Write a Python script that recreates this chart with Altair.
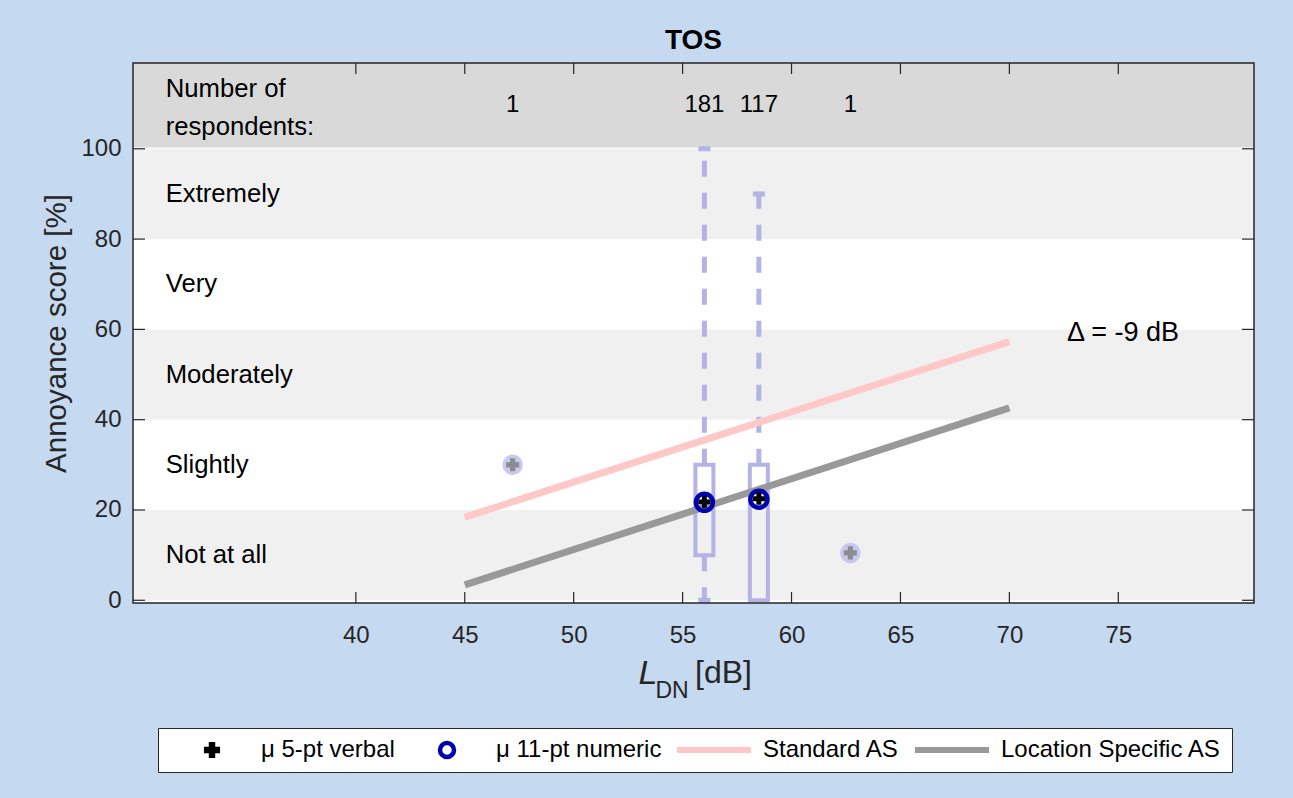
import altair as alt
import pandas as pd

# ---------------- data ----------------
x_tick_values = [40, 45, 50, 55, 60, 65, 70, 75]
y_tick_values = [0, 20, 40, 60, 80, 100]

band_names = ["Not at all", "Slightly", "Moderately", "Very", "Extremely"]
band_lo = [0, 20, 40, 60, 80]
band_hi = [20, 40, 60, 80, 100]

group_ldn = [47.2, 56.0, 58.5, 62.7]
group_n = [1, 181, 117, 1]

box_ldn = [56.0, 58.5]
box_q1 = [10, 0]
box_q3 = [30, 30]
box_min = [0, 0]
box_max = [100, 90]
mean_5pt = [21.8, 22.5]
mean_11pt = [21.7, 22.4]

single_ldn = [47.2, 62.7]
single_score = [30.0, 10.5]

curve_ldn = [45, 70]
standard_as = [18.4, 57.3]
location_as = [3.4, 42.6]

legend_names = ["μ 5-pt verbal", "μ 11-pt numeric", "Standard AS", "Location Specific AS"]
delta_label = "Δ = -9 dB"
header_label = "Number of\nrespondents:"

# ---------------- style ----------------
W, H = 1121, 540
X_DOMAIN = [30, 81]
Y_DOMAIN = [-0.6, 119]
HEADER_BOTTOM, HEADER_TOP = 100.3, 119
FONT = "Liberation Sans"
INK = "#262626"
LAV = "#b3b3e6"
LAV_FILL = "#c8c8f0"
BLUE = "#0000b3"
PINK = "#ffc8c8"
GREY = "#999999"
BAND_GREY = "#f0f0f0"
LABEL_X = 31.27
COUNT_Y = 109.7
HEADER_Y = 113.2
DELTA_X, DELTA_Y = 72.65, 59.2
TICK_LEN = 11

# legend symbol helpers (datum is the raw value in the entry-size pass,
# the entry object when the symbols are drawn)
V = "(isString(datum) ? datum : datum.value)"
SIZE_EXPR = (f"(indexof(['Standard AS', 'Location Specific AS'], {V}) >= 0 ? 5476 : "
             f"({V} == '{legend_names[0]}' ? 260 : 196))")
SW_EXPR = (f"({V} == '{legend_names[0]}' ? 0 : "
           f"({V} == '{legend_names[1]}' ? 4.5 : 6))")


def xenc(field):
    return alt.X(
        f"{field}:Q",
        scale=alt.Scale(domain=X_DOMAIN, nice=False, zero=False),
        axis=alt.Axis(values=x_tick_values, title=None, domain=False, ticks=False,
                      tickSize=0, grid=False, labelFontSize=24, labelPadding=20,
                      labelColor=INK, labelFont=FONT, labelFlush=False),
    )


def yenc(field):
    return alt.Y(
        f"{field}:Q",
        scale=alt.Scale(domain=Y_DOMAIN, nice=False, zero=False),
        axis=alt.Axis(values=y_tick_values, title="Annoyance score [%]", domain=False,
                      ticks=False, tickSize=0, grid=False, labelFontSize=24,
                      labelPadding=12, labelColor=INK, labelFont=FONT, labelFlush=False,
                      titleFontSize=29.5, titleFont=FONT, titleFontWeight="normal",
                      titleColor=INK, titlePadding=9),
    )


# ---------------- tables ----------------
bands = pd.DataFrame({"name": band_names, "lo": band_lo, "hi": band_hi,
                      "mid": [(a + b) / 2 for a, b in zip(band_lo, band_hi)]})
shaded_bands = bands.iloc[::2]
header = pd.DataFrame({"lo": [HEADER_BOTTOM], "hi": [HEADER_TOP]})
counts = pd.DataFrame({"ldn": group_ldn, "n": [str(v) for v in group_n]})

wh_rows, cap_rows = [], []
for x, lo, q1, q3, hi in zip(box_ldn, box_min, box_q1, box_q3, box_max):
    wh_rows.append({"ldn": x, "a": q3, "b": hi})
    cap_rows.append({"ldn": x, "v": hi})
    if lo < q1:
        wh_rows.append({"ldn": x, "a": q1, "b": lo})
        cap_rows.append({"ldn": x, "v": lo})
whiskers = pd.DataFrame(wh_rows)
caps = pd.DataFrame(cap_rows)
boxes = pd.DataFrame({"ldn": box_ldn, "q1": box_q1, "q3": box_q3})
means = pd.DataFrame({"ldn": box_ldn, "m5": mean_5pt, "m11": mean_11pt})
singles = pd.DataFrame({"ldn": single_ldn, "score": single_score})
curves = pd.DataFrame({"ldn": curve_ldn, "std": standard_as, "loc": location_as})
xt = pd.DataFrame({"v": x_tick_values})
yt = pd.DataFrame({"v": y_tick_values})
leg = pd.DataFrame({"series": legend_names})

# ---------------- layers ----------------
header_rect = alt.Chart(header).mark_rect(color="#d9d9d9").encode(
    x=alt.value(0), x2=alt.value(W), y=yenc("lo"), y2="hi:Q")

band_rect = alt.Chart(shaded_bands).mark_rect(color=BAND_GREY).encode(
    x=alt.value(0), x2=alt.value(W), y=yenc("lo"), y2="hi:Q")

band_text = alt.Chart(bands).mark_text(
    align="left", baseline="middle", font=FONT, fontSize=25.7, color="black").encode(
    x=alt.datum(LABEL_X), y=yenc("mid"), text="name:N")

header_text = alt.Chart(pd.DataFrame({"t": [header_label]})).mark_text(
    align="left", baseline="middle", font=FONT, fontSize=25.7, color="black",
    lineBreak="\n", lineHeight=38).encode(
    x=alt.datum(LABEL_X), y=alt.datum(HEADER_Y), text="t:N")

count_text = alt.Chart(counts).mark_text(
    align="center", baseline="middle", font=FONT, fontSize=24, color="black").encode(
    x=xenc("ldn"), y=alt.datum(COUNT_Y), text="n:N")

whisker_rule = alt.Chart(whiskers).mark_rule(
    color=LAV, strokeWidth=5, strokeDash=[16, 16]).encode(
    x=xenc("ldn"), y=yenc("a"), y2="b:Q")

cap_tick = alt.Chart(caps).mark_tick(
    color=LAV, orient="horizontal", size=12, thickness=5, opacity=1).encode(
    x=xenc("ldn"), y=yenc("v"))

box_bar = alt.Chart(boxes).mark_bar(
    size=18, fillOpacity=0, stroke=LAV, strokeWidth=4).encode(
    x=xenc("ldn"), y=yenc("q1"), y2="q3:Q")

std_line = alt.Chart(curves).mark_line(color=PINK, strokeWidth=7, strokeCap="butt").encode(
    x=xenc("ldn"), y=yenc("std"))
loc_line = alt.Chart(curves).mark_line(color=GREY, strokeWidth=7, strokeCap="butt").encode(
    x=xenc("ldn"), y=yenc("loc"))

single_circ = alt.Chart(singles).mark_point(
    shape="circle", filled=True, size=420, color=LAV_FILL, opacity=1).encode(
    x=xenc("ldn"), y=yenc("score"))
single_plus = alt.Chart(singles).mark_point(
    shape="cross", filled=True, size=170, color="#8c8c8c", opacity=1).encode(
    x=xenc("ldn"), y=yenc("score"))

mean_circ = alt.Chart(means).mark_point(
    shape="circle", filled=False, size=290, color=BLUE, strokeWidth=4.5, opacity=1).encode(
    x=xenc("ldn"), y=yenc("m11"))
mean_plus = alt.Chart(means).mark_point(
    shape="cross", filled=True, size=150, color="black", opacity=1).encode(
    x=xenc("ldn"), y=yenc("m5"))

delta_text = alt.Chart(pd.DataFrame({"t": [delta_label]})).mark_text(
    align="left", baseline="middle", font=FONT, fontSize=27, color="black").encode(
    x=alt.datum(DELTA_X), y=alt.datum(DELTA_Y), text="t:N")

tick_b = alt.Chart(xt).mark_rule(color=INK, strokeWidth=1.2).encode(
    x=xenc("v"), y=alt.value(H), y2=alt.value(H - TICK_LEN))
tick_t = alt.Chart(xt).mark_rule(color=INK, strokeWidth=1.2).encode(
    x=xenc("v"), y=alt.value(0), y2=alt.value(TICK_LEN))
tick_l = alt.Chart(yt).mark_rule(color=INK, strokeWidth=1.2).encode(
    y=yenc("v"), x=alt.value(0), x2=alt.value(TICK_LEN + 1))
tick_r = alt.Chart(yt).mark_rule(color=INK, strokeWidth=1.2).encode(
    y=yenc("v"), x=alt.value(W), x2=alt.value(W - TICK_LEN - 1))

frame = alt.Chart(pd.DataFrame({"k": [0]})).mark_rect(
    fillOpacity=0, stroke=INK, strokeWidth=1.5).encode(
    x=alt.value(0), x2=alt.value(W), y=alt.value(0), y2=alt.value(H))

# x-axis title with subscript
xt_L = alt.Chart(pd.DataFrame({"t": ["L"]})).mark_text(
    font=FONT, fontSize=34, fontStyle="italic", color=INK, align="center", baseline="middle").encode(
    x=alt.value(515), y=alt.value(611), text="t:N")
xt_DN = alt.Chart(pd.DataFrame({"t": ["DN"]})).mark_text(
    font=FONT, fontSize=23, color=INK, align="center", baseline="middle").encode(
    x=alt.value(539), y=alt.value(628), text="t:N")
xt_dB = alt.Chart(pd.DataFrame({"t": ["[dB]"]})).mark_text(
    font=FONT, fontSize=32, color=INK, align="center", baseline="middle").encode(
    x=alt.value(590.5), y=alt.value(610), text="t:N")

legend_obj = alt.Legend(
    title=None, orient="none", legendX=25, legendY=665, direction="horizontal",
    columns=4, fillColor="white", strokeColor=INK, padding=10,
    labelFontSize=24, labelFont=FONT, labelColor="black", labelLimit=400,
    labelOffset=9, columnPadding=8, symbolOffset=4, clipHeight=24,
    symbolOpacity=1,
    symbolSize={"expr": SIZE_EXPR},
    symbolStrokeWidth={"expr": SW_EXPR},
)
legend_layer = alt.Chart(leg).mark_point(opacity=0, filled=True).encode(
    x=alt.value(0), y=alt.value(0),
    fill=alt.Fill("series:N", scale=alt.Scale(domain=legend_names,
                  range=["black", "transparent", "transparent", "transparent"]),
                  legend=legend_obj),
    stroke=alt.Stroke("series:N", scale=alt.Scale(domain=legend_names,
                      range=["black", BLUE, PINK, GREY]), legend=legend_obj),
    shape=alt.Shape("series:N", scale=alt.Scale(domain=legend_names,
                    range=["cross", "circle", "stroke", "stroke"]), legend=legend_obj),
)

chart = alt.layer(
    header_rect, band_rect, band_text, header_text, count_text,
    whisker_rule, cap_tick, box_bar, std_line, loc_line,
    single_circ, single_plus, mean_circ, mean_plus, delta_text,
    tick_b, tick_t, tick_l, tick_r, frame, xt_L, xt_DN, xt_dB, legend_layer,
).properties(
    width=W, height=H,
    title=alt.TitleParams("TOS", fontSize=28, fontWeight="bold", font=FONT,
                          color="black", offset=5),
    background="#c5d9f0",
    padding={"left": 133, "top": 63, "right": 39, "bottom": 195},
    autosize=alt.AutoSizeParams(type="none"),
).configure_view(strokeWidth=0, fill="white")

chart.save("out.html", embed_options={"renderer": "svg", "actions": False})
